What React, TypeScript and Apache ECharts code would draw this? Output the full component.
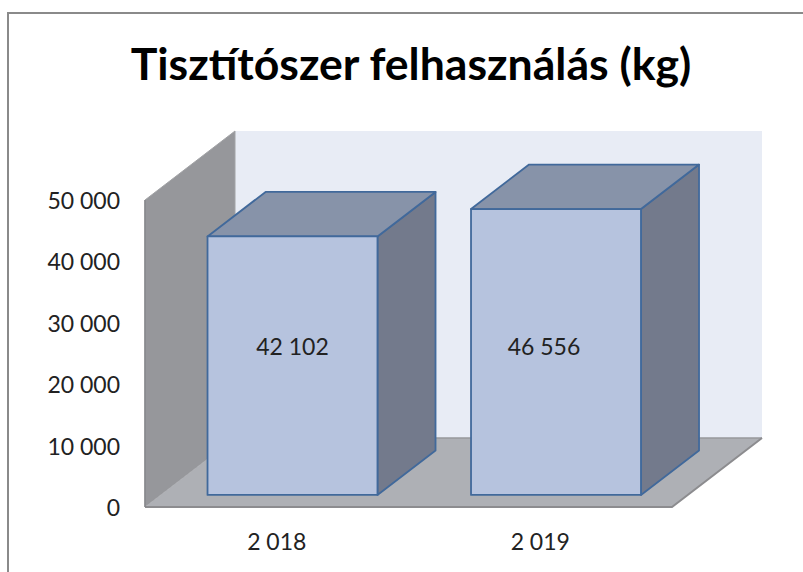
import React, { useEffect, useRef } from "react";
import * as echarts from "echarts";

const titleText = "Tisztítószer felhasználás (kg)";
const categories = ["2 018", "2 019"];
const values = [42102, 46556];
const valueLabels = ["42 102", "46 556"];
const labelShifts = [
  [0, -20],
  [-12, -6],
];
const yTicks = { min: 0, max: 50000, interval: 10000 };

const FONT = "Lato, 'Open Sans', sans-serif";
const DEPTH_X = 90;
const DEPTH_Y = -69;
const BAR_WIDTH = 0.645;
const BAR_START = 0.175;
const BAR_DEPTH = 0.645;

const fmt = (v: number) => String(v).replace(/\B(?=(\d{3})+$)/g, " ");

function renderWalls(params: any) {
  const c = params.coordSys;
  const l = c.x;
  const r = c.x + c.width;
  const t = c.y;
  const b = c.y + c.height;
  const bl = l + DEPTH_X;
  const br = r + DEPTH_X;
  const poly = (points: number[][], fill: string, stroke?: string, lineWidth = 0) => ({
    type: "polygon",
    shape: { points },
    style: { fill, stroke: stroke ?? fill, lineWidth },
  });
  return {
    type: "group",
    children: [
      poly([[bl, t + DEPTH_Y], [br, t + DEPTH_Y], [br, b + DEPTH_Y], [bl, b + DEPTH_Y]], "#E8ECF5"),
      poly([[l, t], [bl, t + DEPTH_Y], [bl, b + DEPTH_Y], [l, b]], "#96979B", "#A2A3A6", 1),
      poly([[l, b], [bl, b + DEPTH_Y], [br, b + DEPTH_Y], [r, b]], "#AEB0B5"),
      { type: "line", shape: { x1: bl, y1: b + DEPTH_Y, x2: br, y2: b + DEPTH_Y }, style: { stroke: "#97989B", lineWidth: 1.5 } },
      { type: "polyline", shape: { points: [[l, b], [r, b], [br, b + DEPTH_Y]] }, style: { stroke: "#8C8C8F", lineWidth: 2, fill: "none" } },
      { type: "line", shape: { x1: l, y1: t, x2: l, y2: b }, style: { stroke: "#85868A", lineWidth: 1.5 } },
    ],
  };
}

function renderBar(params: any, api: any) {
  const i = params.dataIndex;
  const base = api.coord([api.value(0), 0]);
  const top = api.coord([api.value(0), api.value(1)]);
  const w = api.size([1, 0])[0] * BAR_WIDTH;
  const ox = DEPTH_X * BAR_START;
  const oy = DEPTH_Y * BAR_START;
  const dx = DEPTH_X * BAR_DEPTH;
  const dy = DEPTH_Y * BAR_DEPTH;
  const x0 = base[0] - w / 2 + ox;
  const x1 = x0 + w;
  const yb = base[1] + oy;
  const yt = top[1] + oy;
  const stroke = "#41699B";
  const face = (points: number[][], fill: string) => ({
    type: "polygon",
    shape: { points },
    style: { fill, stroke, lineWidth: 1.8, lineJoin: "round" },
  });
  return {
    type: "group",
    children: [
      face([[x1, yb], [x1 + dx, yb + dy], [x1 + dx, yt + dy], [x1, yt]], "#737A8C"),
      face([[x0, yt], [x0 + dx, yt + dy], [x1 + dx, yt + dy], [x1, yt]], "#8793A9"),
      face([[x0, yb], [x1, yb], [x1, yt], [x0, yt]], "#B6C3DE"),
      {
        type: "text",
        style: {
          text: valueLabels[i],
          x: (x0 + x1) / 2 + labelShifts[i][0],
          y: (yb + yt) / 2 + labelShifts[i][1],
          align: "center",
          verticalAlign: "middle",
          fontFamily: FONT,
          fontSize: 23,
          fill: "#222222",
        },
      },
    ],
  };
}

export default function App() {
  const ref = useRef<HTMLDivElement>(null);
  useEffect(() => {
    const chart = echarts.init(ref.current!, null, { renderer: "svg" });
    chart.setOption({
      animation: false,
      backgroundColor: "#ffffff",
      title: {
        text: titleText,
        left: 406,
        top: 35,
        textAlign: "center",
        textStyle: { fontFamily: FONT, fontSize: 44.6, fontWeight: 700, color: "#000000" },
      },
      graphic: [
        {
          type: "polyline",
          silent: true,
          shape: { points: [[8, 572], [8, 13], [803, 13]] },
          style: { stroke: "#8A8A8A", lineWidth: 2, fill: "none" },
        },
      ],
      grid: { left: 145, top: 200, width: 527, height: 307 },
      xAxis: {
        type: "category",
        data: categories,
        axisLine: { show: false },
        axisTick: { show: false },
        axisLabel: { margin: 22, fontFamily: FONT, fontSize: 23, color: "#222222" },
      },
      yAxis: {
        type: "value",
        min: yTicks.min,
        max: yTicks.max,
        interval: yTicks.interval,
        axisLine: { show: false },
        axisTick: { show: false },
        splitLine: { show: false },
        axisLabel: { margin: 25, fontFamily: FONT, fontSize: 23, color: "#222222", formatter: fmt },
      },
      series: [
        { type: "custom", coordinateSystem: "cartesian2d", renderItem: renderWalls, data: [[0, 0]], clip: false, silent: true, z: 1 },
        {
          type: "custom",
          coordinateSystem: "cartesian2d",
          renderItem: renderBar,
          data: values.map((v, i) => [i, v]),
          encode: { x: 0, y: 1 },
          clip: false,
          silent: true,
          z: 2,
        },
      ],
    });
    return () => chart.dispose();
  }, []);
  return <div ref={ref} style={{ position: "absolute", left: 0, top: 0, width: 803, height: 572 }} />;
}
